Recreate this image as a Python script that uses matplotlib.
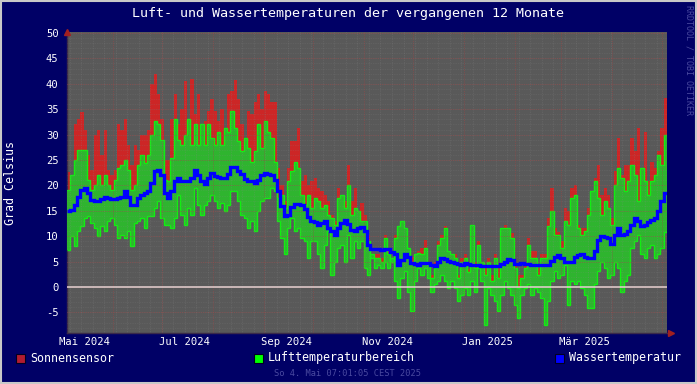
import matplotlib
matplotlib.use("Agg")
import matplotlib.pyplot as plt
import matplotlib.dates as mdates
from matplotlib.patches import Rectangle
import numpy as np
import pandas as pd

# Zeitraum: 12 Monate bis zum Erstellungszeitpunkt
start = pd.Timestamp("2024-05-04 07:01")
end = pd.Timestamp("2025-05-04 07:01")

sonne = [
    22.7, 21, 32, 33, 34.5, 31, 26, 23, 30, 31, 26, 31, 23, 22, 23, 32, 31, 33, 28, 24,
    28, 27, 30, 30, 31, 40, 42, 38, 33, 25,
    25, 33, 38, 32, 35, 40.5, 31, 41, 34, 38, 32, 32.6, 34.6, 37, 34.6, 32.6, 35, 30.6, 38, 38.5,
    40.8, 37, 32, 26.7, 34.6, 34, 36.5, 38, 35, 38.5,
    38, 36.5, 36.5, 23.4, 20, 16.9, 23.4, 28.7, 28.7, 31.3, 20.8, 22, 20, 20.8, 21.5, 19.5, 18.8, 18.2, 16.9, 14.2,
    13, 19.5, 17.5, 16.9, 24, 16.9, 19.5, 14.9, 16.5, 14.2,
    10.3, 6.5, 6.4, 6.4, 5.7, 10.3, 7, 5.7, 10.3, 12, 12.9, 11.6, 7.7, 6, 6.4, 7, 7.7, 9.3, 5, 2.4,
    5, 9, 10.3, 12, 7, 6.4, 6.4, 2.4, 5.7, 6.5,
    3.5, 12.3, 5, 9, 5, 3.7, 5.7, 2.4, 6.4, 3.7, 11.6, 12.3, 11.6, 10.6, 4.4, 2.4, 2.4, 5, 9.6, 7,
    7, 3.7, 6.4, 6.4, 13.6, 19.5, 11.6, 10.9, 9, 15.5,
    15, 19.5, 20.1, 12.3, 11.6, 11.6, 15.5, 18.8, 21.5, 24, 18.2, 19.5, 18.2, 13.6, 22.8, 29.3, 22, 24, 24, 29.3,
    26.7, 31.3, 22, 30.6, 20.8, 24.7, 23.4, 26.7, 31.3, 37.2,
]
luft_max = [
    19, 22, 25, 27, 27, 27, 21, 19, 20, 22, 20, 22, 20, 19, 21, 23.5, 24, 25, 23, 19,
    20, 24, 26, 24.5, 26, 30, 32.6, 32, 29, 21,
    20.8, 25.4, 33, 29, 28, 30, 33, 28, 32, 28, 32, 28, 32, 29.3, 28, 30.6, 28, 31.3, 30.6, 34.6,
    31.3, 28.7, 26.7, 29.3, 27.4, 24.7, 26.7, 32, 27.4, 32.6,
    30.6, 29.3, 24.7, 17.5, 18.2, 15.5, 20.8, 22.8, 24.7, 23.4, 18.2, 16.2, 18.2, 15.5, 17.5, 16.9, 15.5, 16.2, 14.2, 13.6,
    12.3, 17.5, 18.2, 15.5, 20, 14.2, 15.5, 14.9, 13, 13,
    9, 5.7, 5.7, 5.7, 5, 9.6, 6.4, 5, 9.6, 12, 12.9, 11.6, 7.7, 5, 6.4, 6.7, 6.4, 7.7, 4.4, 1.8,
    3.7, 8.3, 9.6, 11.6, 7, 6.4, 5.7, 1.8, 5, 5.7,
    3, 12.3, 3.7, 8.3, 5, 2.4, 5, 1.1, 5.7, 1.8, 11.6, 11.6, 11.6, 9.6, 3.7, -0.2, 1.8, 3.7, 8.3, 5.7,
    5.7, 2.4, 5.7, 5.7, 12, 14.9, 10.3, 10.3, 7.7, 12.9,
    12.3, 17.5, 18.2, 11.6, 10.3, 11, 14.2, 18.8, 20.8, 17.5, 14.2, 16.9, 15.5, 12.3, 20.1, 23.4, 21.5, 18.8, 20.8, 24,
    22, 16.9, 23.4, 20.8, 18.2, 20.8, 22, 26, 24, 30,
]
luft_min = [
    7.3, 10, 8, 11, 12, 13.5, 14, 12.5, 11.6, 10, 12, 11, 13, 13.6, 12.3, 9.6, 10.3, 9.6, 11, 8,
    12.6, 13, 13.6, 11.6, 14, 14, 15.5, 16.9, 13.6, 12.3,
    12.3, 11.6, 13.6, 18.2, 14.2, 12.3, 15.5, 14.2, 19.5, 16.2, 14.2, 16.2, 16.9, 18.2, 16.9, 15.5, 16.5, 14.9, 16.2, 18.8,
    18.8, 16.9, 14.2, 13.6, 11.6, 13, 11, 14.9, 16.9, 17.5,
    17.5, 19.5, 18.8, 13, 9.6, 6.4, 11.6, 13.6, 11, 11.6, 9.6, 9, 5.7, 9, 9, 6.4, 3.7, 8.3, 11, 2.4,
    5, 7.7, 8.3, 5, 10.3, 5.7, 9, 7.7, 9, 3.7,
    2.4, 6.4, 3.7, 4.4, 3.7, 5, 3.7, 5.7, 1.1, -2.2, 1.8, 3.1, -0.9, -4.8, 1.1, 3.7, 2.4, 3.7, 1.8, -0.9,
    0.5, 1.1, 2.4, 1.1, -0.2, 1.1, -0.2, -2.8, -1.5, -0.2,
    -1.5, 1.1, -0.9, 3.7, 1.1, -7.4, -0.2, -1.5, -2.8, -4.8, -1.5, 1.1, -0.2, -1.5, -3.5, -6.1, -1.5, -0.2, 0.5, -1.5,
    -0.2, -0.9, -2.2, -7.4, -2.8, 1.1, 3.1, 1.8, 2.4, 4.4,
    -3.5, 1.1, 0.5, 1.1, -0.2, -1.5, -4.1, -4.1, 0.5, 3.1, 5, 3.7, 1.8, 2.4, 5, 3.7, -0.9, 1.1, 2.4, 7.7,
    9, 10.3, 6.4, 5.7, 7.7, 8.3, 5.7, 6.4, 7.7, 10.9,
]
wasser = [
    14.9, 15.2, 16.2, 17.8, 19, 19.4, 18.5, 17.2, 17, 17, 17.3, 17.8, 17.5, 17.3, 17.3, 17.5, 17.8, 18.8, 17.8, 16.2,
    16.2, 17.5, 18.2, 18.6, 18.8, 20.5, 22.8, 23, 22, 18.5,
    17.5, 18.8, 20.8, 21.5, 20.8, 20.8, 20.8, 21.5, 23, 22, 20.8, 20.3, 21.5, 22.4, 21.8, 21.6, 21.5, 21.5, 22.3, 23.6,
    23.7, 22.9, 22.3, 21.2, 20.9, 20.8, 20.4, 21, 22, 22.5,
    22.2, 22, 21, 18.8, 16, 14, 14.2, 15.8, 16.4, 16.3, 16.1, 15.3, 13.8, 13, 12.8, 12.3, 12.6, 13, 11.6, 11,
    10.3, 11.6, 12.5, 13.1, 12.4, 11.3, 11.1, 11.6, 11.8, 11,
    8.3, 7.5, 7.5, 7.4, 7.3, 7.4, 7.4, 6.9, 6.4, 4.4, 5.4, 6.5, 6, 4.7, 4.5, 4.4, 4.7, 4.7, 4.7, 4.3,
    4.2, 5, 5.7, 5.6, 5.2, 5, 4.8, 4.6, 4.3, 4.7,
    4.6, 4.4, 4.4, 4.3, 4.2, 4.1, 4.2, 4.2, 4.1, 4.1, 4.5, 5, 5.6, 5.4, 4.5, 4.6, 4.7, 4.6, 4.5, 4.3,
    4.3, 4.3, 4.4, 4.4, 4.3, 5.2, 6, 6.2, 5.8, 5,
    5, 5, 6, 6.3, 6.4, 6, 5.8, 5.7, 7, 9.2, 10, 9.8, 9.6, 8.5, 10.3, 11.6, 10.3, 10.4, 11, 12.3,
    13.5, 13, 12, 12.2, 12.8, 13.1, 13.5, 15, 17, 18.6,
]

monats_labels = ["Mai 2024", "Jul 2024", "Sep 2024", "Nov 2024", "Jan 2025", "Mär 2025"]
monats_start = pd.to_datetime(["2024-05-01", "2024-07-01", "2024-09-01",
                               "2024-11-01", "2025-01-01", "2025-03-01"])

# Farben im RRDtool-Stil
bg = "#000066"
plot_bg = "#595959"
rot = "#cc2626"
gruen_fill = "#2fb42f"
gruen_line = "#11ee11"
blau = "#0000ff"
text_col = "#ffffff"

plt.rcParams["font.family"] = ["DejaVu Sans Mono"]

fig = plt.figure(figsize=(6.97, 3.84), dpi=100, facecolor=bg)
ax = fig.add_axes([67 / 697, 1 - 333 / 384, 600 / 697, 301 / 384])
ax.set_facecolor(plot_bg)

edges = mdates.date2num(pd.date_range(start, end, periods=len(wasser) + 1).to_pydatetime())
t0, t1 = edges[0], edges[-1]

# Datenflaechen
ax.stairs(sonne, edges, baseline=luft_min, fill=True, color=rot, zorder=2)
ax.stairs(luft_max, edges, baseline=luft_min, fill=True, color=gruen_fill, zorder=3)
ax.stairs(luft_max, edges, baseline=None, color=gruen_line, lw=1.0, zorder=4)
ax.stairs(luft_min, edges, baseline=None, color=gruen_line, lw=1.0, zorder=4)
ax.stairs(wasser, edges, baseline=None, color=blau, lw=2.4, zorder=6)

ymin, ymax = -9.06, 50.2
ax.set_xlim(t0, t1)
ax.set_ylim(ymin, ymax)

# Gitter (liegt bei RRDtool ueber den Daten)
dots = (0, (1, 1.5))
wochen = mdates.date2num(pd.date_range("2024-05-06", end, freq="7D").to_pydatetime())
ax.vlines(wochen, ymin, ymax, colors="#8c8c8c", lw=0.5, linestyles=dots, alpha=0.4, zorder=5)
ax.hlines(np.arange(-9, 51, 1), t0, t1, colors="#8c8c8c", lw=0.5, linestyles=dots, alpha=0.3, zorder=5)
monate = mdates.date2num(pd.date_range("2024-06-01", end, freq="MS").to_pydatetime())
ax.vlines(monate, ymin, ymax, colors="#a04444", lw=0.6, linestyles=dots, alpha=0.7, zorder=5)
ax.hlines(np.arange(-5, 51, 5), t0, t1, colors="#a04444", lw=0.6, linestyles=dots, alpha=0.7, zorder=5)
ax.axhline(0, color="#e6d2d2", lw=1.1, zorder=5)

# Achsen
for s in ["top", "right"]:
    ax.spines[s].set_visible(False)
for s in ["left", "bottom"]:
    ax.spines[s].set_color("#3a2a4a")
    ax.spines[s].set_linewidth(1)
ax.plot([0], [1], marker="^", color="#a02020", ms=5, transform=ax.transAxes, clip_on=False, zorder=7)
ax.plot([1.006], [0], marker=">", color="#a02020", ms=5, transform=ax.transAxes, clip_on=False, zorder=7)

ax.set_yticks(np.arange(-5, 51, 5))
ax.set_yticklabels([str(v) for v in range(-5, 51, 5)])
lab_pos = mdates.date2num((monats_start + pd.Timedelta(days=14)).to_pydatetime())
ax.set_xticks(lab_pos)
ax.set_xticklabels(monats_labels)
ax.tick_params(axis="both", length=0, colors=text_col, labelsize=7.6)
ax.tick_params(axis="y", pad=6)
ax.tick_params(axis="x", pad=3)

# Texte
fig.text(0.5, 1 - 14 / 384, "Luft- und Wassertemperaturen der vergangenen 12 Monate",
         ha="center", va="center", color=text_col, fontsize=9.6)
fig.text(11 / 697, 1 - 183 / 384, "Grad Celsius", rotation=90, ha="center", va="center",
         color=text_col, fontsize=8.4)
fig.text(689 / 697, 1 - 60 / 384, "RRDTOOL / TOBI OETIKER", rotation=270, ha="center", va="center",
         color="#4a4aa0", fontsize=6)
fig.text(348 / 697, 1 - 374 / 384, "So 4. Mai 07:01:05 CEST 2025", ha="center", va="center",
         color="#4a4aa0", fontsize=6.2)

# Legende
legende = [("Sonnensensor", "#b01c30", 16), ("Lufttemperaturbereich", "#00ff00", 254),
           ("Wassertemperatur", blau, 555)]
for name, farbe, px in legende:
    fig.patches.append(Rectangle((px / 697, 1 - 363 / 384), 9 / 697, 9 / 384, transform=fig.transFigure,
                                 facecolor=farbe, edgecolor="#000022", lw=0.8))
    fig.text((px + 14) / 697, 1 - 358 / 384, name, ha="left", va="center", color=text_col, fontsize=8.4)

# Rahmen
fig.patches.append(Rectangle((0.001, 0.002), 0.997, 0.996, transform=fig.transFigure,
                             fill=False, edgecolor="#c8c8c8", lw=1.5))

fig.savefig("out.png", dpi=100, facecolor=bg)
